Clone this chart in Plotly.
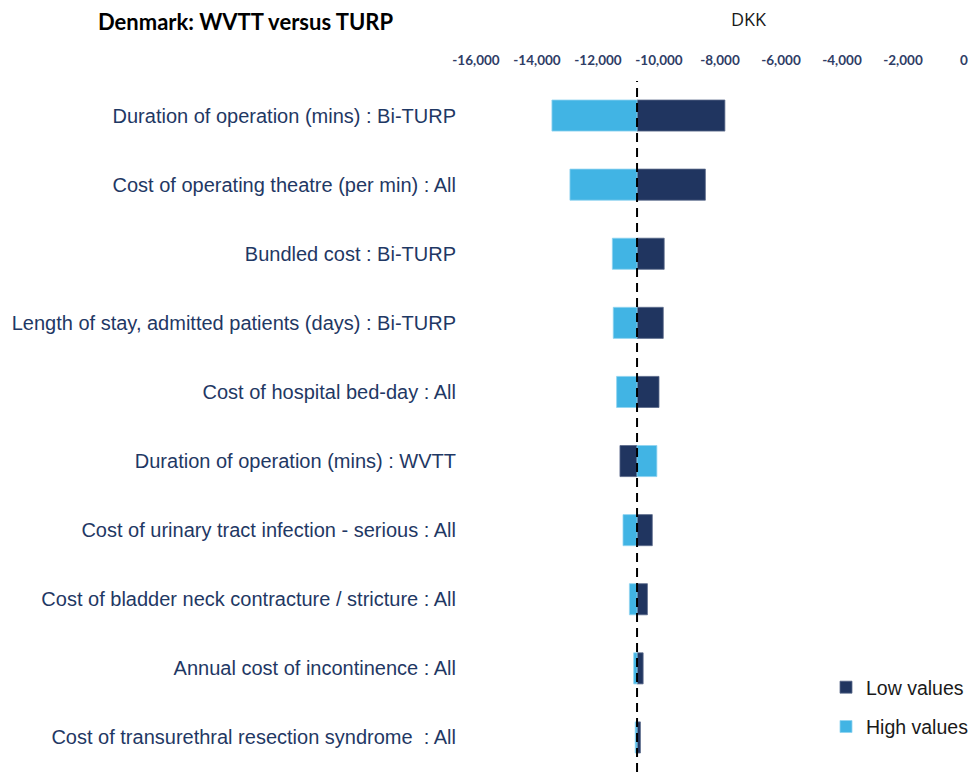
import plotly.graph_objects as go

categories = [
    "Duration of operation (mins) : Bi-TURP",
    "Cost of operating theatre (per min) : All",
    "Bundled cost : Bi-TURP",
    "Length of stay, admitted patients (days) : Bi-TURP",
    "Cost of hospital bed-day : All",
    "Duration of operation (mins) : WVTT",
    "Cost of urinary tract infection - serious : All",
    "Cost of bladder neck contracture / stricture : All",
    "Annual cost of incontinence : All",
    "Cost of transurethral resection syndrome  : All",
]
base_value = -10720
low_values = [-7840, -8480, -9830, -9860, -10000, -11280, -10220, -10380, -10520, -10610]
high_values = [-13510, -12920, -11530, -11500, -11390, -10070, -11180, -10970, -10830, -10780]
tick_vals = [-16000, -14000, -12000, -10000, -8000, -6000, -4000, -2000, 0]
tick_text = ["-16,000", "-14,000", "-12,000", "-10,000", "-8,000", "-6,000", "-4,000", "-2,000", "0"]

DARK = "#203560"
LIGHT = "#41B4E4"

W, H = 973, 774
L, R, T, B = 476, 9, 81, 2
PW = W - L - R
PH = H - T - B

fig = go.Figure()
fig.add_trace(go.Bar(
    y=categories, x=[v - base_value for v in low_values], base=base_value,
    orientation="h", name="Low values", marker=dict(color=DARK, line=dict(color="#5a6a8a", width=0.8)),
    width=0.45, legendgroup="a",
))
fig.add_trace(go.Bar(
    y=categories, x=[v - base_value for v in high_values], base=base_value,
    orientation="h", name="High values", marker=dict(color=LIGHT, line=dict(color="#8fd3f0", width=0.8)),
    width=0.45, legendgroup="b",
))

fig.add_shape(type="line", xref="x", yref="paper", x0=base_value, x1=base_value, y0=0, y1=1,
              line=dict(color="black", width=2, dash="9px,6px"))

fig.update_layout(
    width=W, height=H,
    margin=dict(l=L, r=R, t=T, b=B, autoexpand=False),
    paper_bgcolor="white", plot_bgcolor="white",
    barmode="overlay",
    showlegend=True,
    legend=dict(x=(826 - L) / PW, xanchor="left", y=(H - B - 668) / PH, yanchor="top",
                font=dict(family="Liberation Sans, Arial", size=19.5, color="#1a1a1a"),
                itemwidth=30,
                tracegroupgap=11, traceorder="grouped", bgcolor="rgba(0,0,0,0)"),
    title=dict(text="<b>Denmark: WVTT versus TURP</b>", x=98 / W, xanchor="left",
               y=1 - 22 / H, yanchor="middle",
               font=dict(family="Lato, Open Sans", size=22, color="black")),
    xaxis=dict(side="top", range=[-16000, 0], tickvals=tick_vals, ticktext=tick_text,
               showgrid=False, zeroline=False, showline=False, ticks="",
               ticklabelstandoff=12, automargin=False,
               tickfont=dict(family="Lato, Open Sans", size=13.5, color="#2F3D66", weight="bold")),
    yaxis=dict(autorange="reversed", showgrid=False, zeroline=False, showline=False, ticks="",
               ticklabelstandoff=19, automargin=False,
               tickfont=dict(family="Liberation Sans, Arial", size=20, color="#1F3864")),
    annotations=[dict(text="DKK", xref="paper", yref="paper", x=(749 - L) / PW, y=(H - B - 19) / PH,
                      showarrow=False, xanchor="center", yanchor="middle",
                      font=dict(family="Open Sans, Lato", size=18, color="#1a1a1a"))],
)

fig.write_html(
    "out.html",
    config={"displayModeBar": False},
    post_script="document.body.style.margin='0';document.body.style.overflow='hidden';",
)
